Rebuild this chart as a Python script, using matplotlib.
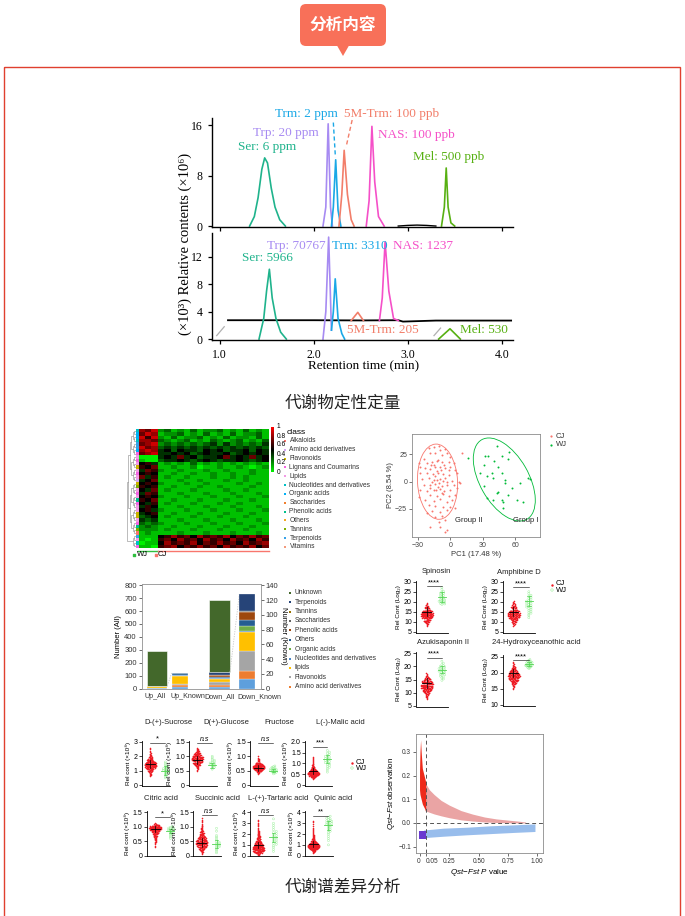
import numpy as np
import matplotlib
matplotlib.use("Agg")
import matplotlib.pyplot as plt
from matplotlib.patches import Rectangle, FancyBboxPatch, Polygon, Ellipse
from matplotlib.colors import LinearSegmentedColormap, to_rgb

plt.rcParams['font.family'] = ['Liberation Sans', 'DejaVu Sans']
plt.rcParams['mathtext.fontset'] = 'custom'
plt.rcParams['mathtext.rm'] = 'Liberation Sans'
plt.rcParams['mathtext.it'] = 'Liberation Sans:italic'
plt.rcParams['axes.linewidth'] = 0.6

# ---------------- data: chromatograms (retention time, intensity) ----------------
std_ser = ([1.32, 1.37, 1.41, 1.45, 1.48, 1.51, 1.55, 1.59, 1.64, 1.70], [0, 1.5, 4.5, 9, 10.8, 10, 6, 3, 1, 0])
std_trp = ([2.10, 2.13, 2.155, 2.18, 2.20], [0, 3, 16.2, 3, 0])
std_trm = ([2.19, 2.21, 2.235, 2.26, 2.29], [0, 3, 10.5, 2.5, 0])
std_5mt = ([2.27, 2.30, 2.325, 2.36, 2.40, 2.43], [0, 5, 12, 5, 1, 0])
std_nas = ([2.56, 2.59, 2.62, 2.65, 2.69, 2.75], [0, 4, 15.8, 7, 1.5, 0])
std_mel = ([3.36, 3.39, 3.41, 3.43, 3.46, 3.50], [0, 3, 9.2, 3, 0.5, 0])
std_base = ([2.9, 3.0, 3.1, 3.2, 3.3], [0, 0.1, 0.15, 0.1, 0])

smp_base = ([1.09, 1.5, 2.0, 2.5, 2.9, 2.95, 3.3, 3.8, 4.1], [2.75, 2.75, 2.75, 2.72, 2.75, 2.55, 2.7, 2.7, 2.7])
smp_ser = ([1.42, 1.47, 1.50, 1.53, 1.56, 1.60, 1.65, 1.71], [0, 3, 7, 10.2, 6, 3, 1, 0])
smp_trp = ([2.10, 2.13, 2.16, 2.19], [0, 4, 14.9, 1.3])
smp_trm = ([2.19, 2.21, 2.23, 2.26, 2.30, 2.33], [1.3, 4, 8.8, 3, 0.8, 0])
smp_5mt = ([2.40, 2.47, 2.53], [2.7, 3.9, 2.7])
smp_nas = ([2.70, 2.73, 2.76, 2.80, 2.85, 2.90], [2.7, 6, 14.2, 7, 3, 2.7])
smp_mel = ([3.33, 3.45, 3.56], [0, 1.5, 0])
smp_gaps = [([0.97, 1.05], [0.5, 1.8]), ([3.28, 3.35], [0.5, 1.6])]

c_ser, c_trp, c_trm, c_5mt, c_nas, c_mel = '#1fb38c', '#a78bf2', '#1aa8e6', '#f27e6a', '#f550c8', '#57b012'

# ---------------- data: heatmap (digits = scaled value x10; first 3 cols WJ) ----------------
heat_rows = [
    "879" "23121312231213121", "798" "12231213121312231", "969" "21312231213122131",
    "887" "32123121321231213", "789" "23232323424232324", "978" "34343434343434343",
    "898" "45354435453445354", "789" "44545345445345454", "000" "45474534457454745",
    "100" "34454345434454345", "564" "12121312121212121", "657" "11211201121121012",
    "476" "21121112112111211", "565" "11211211211211211", "746" "12112111211212111",
    "457" "11121121112112111", "565" "21112112111121121", "656" "11211121121111211",
    "547" "12111211112112111", "476" "11121112111211121", "565" "21112111211121112",
    "657" "11211121112111211", "546" "12111211121121111", "465" "11121112111211121",
    "564" "21112111211121112", "456" "11211121112111211", "345" "12111211121112111",
    "434" "11121112111211121", "323" "21112111211121112", "232" "11211121112111211",
    "222" "12111211121112111", "121" "11121112111211121", "111" "56867586768576867",
    "101" "67586758675867586", "011" "58676857686758678", "110" "67857686758676857",
]
heat_classes = ['Alkaloids', 'Amino acid derivatives', 'Flavonoids', 'Lignans and Coumarins', 'lipids',
                'Nucleotides and derivatives', 'Organic acids', 'Saccharides', 'Phenolic acids', 'Others',
                'Tannins', 'Terpenoids', 'Vitamins']
heat_class_colors = ['#f8766d', '#d7a6f2', '#c9b300', '#f564e3', '#f29ae6', '#00bfc4', '#00b0f6',
                     '#f08030', '#00c08b', '#f5a623', '#7cae00', '#35a2e8', '#f39a7c']
class_bar = [5, 6, 6, 5, 11, 11, 6, 3, 4, 3, 4, 2, 4, 3, 4, 1, 2, 10, 4, 3, 4, 8, 3, 4, 4, 2, 2, 4, 3, 8, 10, 0, 11, 4, 5, 3]

# ---------------- data: PCA scores ----------------
cj_pc1 = [-20, -15.4, -10.8, -9.2, -4.6, -18.5, -13.8, -7.7, -3.1, 0, 10.8, -24.6, -29.2, -21.5, -16.9, -12.3,
          -7.7, -1.5, 3.1, -23.1, -18.5, -13.8, -9.8, -4.6, 0, 4.6, -27.7, -21.5, -16, -11.7, -6.2, -1.5, 6.2,
          -26.2, -20, -15.4, -9.8, -4.6, 1.5, 7.7, -24.6, -18.5, -13.8, -7.7, -3.1, 3.1, 9.2, -27.7, -21.5,
          -15.4, -9.8, -5.5, 0, -18.5, -12.3, -6.8, -1.5, 4.6, -23.1, -15.4, -9.2, -3.1, 1.5, -20, -13.8, -6.2,
          0, -16.9, -9.2, -3.1, -13.8, -7.7, -10.8, -4.6, -18.5, -9.2, -4.6, -3.1, -12.3, -8.6, -15.4, -19.1,
          -11.7, -7.1, -1.5, -27.7, 6.2, -29.2, -21.5, 4.6, -14, -10, -17, -12, -6, -8, -13, -18, -3, -11]
cj_pc2 = [30.6, 32.1, 32.7, 29.1, 29.7, 26, 26, 24.5, 26, 22.9, 26.6, 20.5, 16.8, 16.8, 18.3, 19.3, 18.3, 18.3,
          16.8, 12.2, 11.3, 13.1, 13.8, 12.2, 13.8, 10.7, 7.6, 7.6, 6.7, 7.6, 7, 6.1, 7.6, 2.1, 3.1, 1.5, 2.1,
          3.1, 0.9, 0, -3.1, -3.1, -2.1, -4, -3.1, -3.1, -1.5, -7.6, -8.3, -7.6, -7, -8.3, -7.6, -12.2, -13.1,
          -11.3, -13.1, -12.2, -16.8, -17.4, -16.2, -18.3, -16.8, -21.4, -22.3, -22.9, -23.5, -26.6, -27.5, -26,
          -32.1, -31.5, -36.7, -35.2, -41.9, -41.3, -45.9, -44.3, 1.5, 10.7, 15.3, -6.1, -4.6, 0.6, 10.7, 13.8,
          -6.1, -13.8, -29.1, -24.5, 5, -1, 0, 10, 15, -10, -8, 15, 0, 20]
wj_pc1 = [16.9, 32.3, 35.4, 43.7, 54.5, 47.7, 53.8, 40.9, 30.8, 44.6, 38.5, 47.7, 33.8, 50.2, 50.8, 40, 56.9,
          72.3, 73.8, 30.8, 44.6, 53.8, 39.4, 47.7, 43, 61.5, 67.7, 49.2, 49.2, 33.8, 27.7, 64.6]
wj_pc2 = [21.4, 23.9, 23.9, 32.7, 27.5, 23.9, 20.5, 19.3, 15.3, 13.8, 7.6, 7.6, 5.2, 1.5, -0.9, 3.1, -6.1, 3.1,
          2.1, -4, -9.2, -12.2, -16.8, -16.8, -10.7, -16.8, -18.3, -24.5, -18.3, -15.3, 7.6, -1.5]

# ---------------- data: stacked bars (known class counts, bottom -> top) ----------------
bar_names = ['Up_All', 'Up_Known', 'Down_All', 'Down_Known']
known_classes = ['Alkaloids', 'Amino acid derivatives', 'Flavonoids', 'lipids', 'Nucleotides and derivatives',
                 'Organic acids', 'Others', 'Phenolic acids', 'Saccharides', 'Tannins', 'Terpenoids']
known_colors = ['#5e9fdc', '#ed7d31', '#a5a5a5', '#ffc000', '#4a86c8', '#70ad47', '#255e91', '#9e480e',
                '#636363', '#997300', '#264478']
up_known = [2, 2.5, 1.5, 11.5, 1, 0, 2, 0, 0, 0, 0.5]
down_known = [12.4, 12, 26.6, 25.4, 1.3, 6.7, 8, 11.6, 0.8, 1, 22.3]
unknown_all = [266, 558]
legend_order = ['Unknown', 'Terpenoids', 'Tannins', 'Saccharides', 'Phenolic acids', 'Others', 'Organic acids',
                'Nucleotides and derivatives', 'lipids', 'Flavonoids', 'Amino acid derivatives']

# ---------------- data: swarm panels (start, step, counts per bin) ----------------
spinosin_cj = (8, 1, [2, 4, 8, 14, 20, 24, 24, 20, 14, 9, 5, 2])
spinosin_wj = (19, 1, [4, 5, 4, 3, 3, 3, 2, 1, 1])
spinosin_stats = [15.0, 2.2, 22.5, 2.5]
amphibine_cj = (8, 1, [2, 4, 8, 12, 18, 22, 22, 18, 14, 10, 6, 4, 2])
amphibine_wj = (12, 1, [1, 1, 2, 2, 2, 3, 3, 3, 3, 2, 2, 2, 1, 1])
amphibine_stats = [15.0, 2.3, 20.5, 2.5]
azuki_cj = (8, 1, [3, 6, 12, 20, 26, 28, 24, 16, 8, 3])
azuki_wj = (15, 1, [2, 3, 4, 5, 5, 4, 2, 1])
azuki_stats = [13.8, 1.8, 18.7, 1.3]
hydroxy_cj = (15, 0.5, [1, 2, 3, 5, 8, 12, 15, 18, 20, 18, 15, 12, 9, 6, 4, 2, 1, 1])
hydroxy_wj = (21.5, 0.5, [3, 5, 7, 6, 4, 2])
hydroxy_stats = [19.9, 1.3, 22.7, 0.6]

sucrose_cj = (0.6, 0.1, [1, 2, 3, 5, 8, 12, 16, 20, 22, 20, 16, 12, 9, 6, 4, 3, 2, 1, 1, 1, 1])
sucrose_wj = (0.5, 0.1, [1, 1, 1, 2, 2, 3, 3, 2, 2, 1, 1, 1])
sucrose_stats = [1.45, 0.3, 1.0, 0.33]
glucose_cj = (0.5, 0.05, [1, 2, 3, 5, 8, 11, 14, 17, 19, 18, 15, 12, 9, 6, 4, 2, 1])
glucose_wj = (0.55, 0.05, [1, 2, 2, 3, 3, 2, 2, 1, 1, 1])
glucose_stats = [0.87, 0.15, 0.68, 0.1]
fructose_cj = (0.4, 0.05, [2, 6, 12, 20, 26, 24, 18, 12, 7, 4, 2, 1, 1])
fructose_wj = (0.4, 0.05, [2, 4, 5, 5, 3, 2])
fructose_stats = [0.6, 0.1, 0.5, 0.06]
malic_cj = (0.3, 0.05, [2, 5, 10, 18, 24, 24, 20, 16, 12, 8, 6, 4, 3, 2, 2, 1, 1, 1, 1, 1, 1])
malic_wj = (0.6, 0.1, [1, 1, 2, 2, 3, 3, 3, 3, 2, 2, 1])
malic_stats = [0.65, 0.15, 1.2, 0.2]
citric_cj = (0.3, 0.05, [1, 1, 1, 2, 2, 3, 4, 5, 7, 9, 12, 16, 20, 24, 22, 14, 5])
citric_wj = (0.6, 0.05, [1, 1, 1, 2, 2, 3, 4, 4, 2])
citric_stats = [0.93, 0.1, 0.85, 0.07]
succinic_cj = (0.05, 0.05, [1, 2, 4, 6, 9, 12, 15, 17, 18, 17, 15, 12, 10, 8, 6, 5, 4, 3, 3, 2, 2, 1, 1, 1, 1, 1])
succinic_wj = (0.1, 0.05, [1, 1, 1, 1, 2, 2, 2, 2, 1, 1, 1, 1, 1, 0, 0, 1, 0, 1])
succinic_stats = [0.45, 0.15, 0.4, 0.15]
tartaric_cj = (0.1, 0.1, [3, 6, 10, 14, 16, 17, 16, 15, 13, 12, 10, 9, 8, 7, 6, 5, 4, 4, 3, 3, 2, 2, 2, 1, 1, 1, 1, 1, 1, 1, 0, 1, 1])
tartaric_wj = (0.4, 0.2, [1, 1, 1, 2, 2, 2, 2, 2, 2, 2, 1, 1, 1, 1, 0, 1])
tartaric_stats = [1.0, 0.3, 1.7, 0.4]
quinic_cj = (0.3, 0.1, [2, 4, 8, 13, 18, 22, 24, 22, 18, 14, 10, 7, 5, 4, 3, 2, 2, 1, 1, 1, 1, 1, 1, 1, 1, 0, 1, 0, 1, 1])
quinic_wj = (1.0, 0.2, [1, 0, 1, 1, 1, 1, 2, 2, 2, 3, 4, 4, 3, 2])
quinic_stats = [1.1, 0.3, 2.8, 0.4]

# ---------------- data: Qst-Fst clouds (envelopes) ----------------
sigpos_p = [-0.004, 0.0, 0.005, 0.01, 0.02, 0.03, 0.04, 0.05]
sigpos_hi = [0.22, 0.30, 0.35, 0.30, 0.23, 0.21, 0.19, 0.17]
sigpos_lo = [0.14, 0.12, 0.11, 0.10, 0.08, 0.07, 0.06, 0.045]
pos_p = [0.05, 0.08, 0.12, 0.18, 0.25, 0.35, 0.45, 0.55, 0.65, 0.75, 0.85, 0.9]
pos_hi = [0.165, 0.14, 0.12, 0.095, 0.075, 0.052, 0.037, 0.025, 0.017, 0.012, 0.007, 0.004]
pos_lo = [0.05, 0.045, 0.038, 0.03, 0.022, 0.013, 0.008, 0.004, 0.002, 0.001, 0.0, 0.0]
neg_p = [0.03, 0.2, 0.4, 0.6, 0.8, 0.98]
neg_hi = [-0.03, -0.022, -0.018, -0.012, -0.008, -0.004]
neg_lo = [-0.062, -0.056, -0.05, -0.045, -0.04, -0.036]
signeg_p = [-0.005, 0.05]
signeg_hi = [-0.036, -0.036]
signeg_lo = [-0.066, -0.066]
qst_labels = [r"Sig_$\mathit{Qst}$−$\mathit{Fst}$>0 (186)", r"$\mathit{Qst}$−$\mathit{Fst}$>0 (774)",
              r"$\mathit{Qst}$−$\mathit{Fst}$<0 (1115)", r"Sig_$\mathit{Qst}$−$\mathit{Fst}$<0  (908)"]
qst_colors = ['#ee2a1a', '#e89a9a', '#8db6ea', '#6a3ad0']

# ---------------- figure ----------------
W, H = 685, 916
fig = plt.figure(figsize=(W / 100, H / 100), dpi=100)
bg = fig.add_axes([0, 0, 1, 1], zorder=-5)
bg.set_xlim(0, W)
bg.set_ylim(H, 0)
bg.axis('off')


def px_axes(l, t, r, b, **kw):
    return fig.add_axes([l / W, 1 - b / H, (r - l) / W, (b - t) / H], **kw)


CJK = ['Noto Sans CJK SC', 'DejaVu Sans']
SERIF = ['Liberation Serif', 'DejaVu Serif']

# header and frame
bg.add_patch(Rectangle((4.5, 67), 675.5, 870, fill=False, ec='#e0402f', lw=1.0))
bg.add_patch(FancyBboxPatch((300, 4), 86, 42, boxstyle="round,pad=0,rounding_size=6", fc='#f87059', ec='none'))
bg.add_patch(Polygon([(337, 45.5), (349, 45.5), (343, 56)], fc='#f87059', ec='none'))
bg.text(343, 25, "分析内容", color='white', fontsize=12, fontweight='bold', family=CJK, ha='center', va='center')
bg.text(343, 403, "代谢物定性定量", fontsize=12, family=CJK, ha='center', va='center', color='#222')
bg.text(343, 887, "代谢谱差异分析", fontsize=12, family=CJK, ha='center', va='center', color='#222')

# ---------------- chromatograms ----------------
ax1 = px_axes(212, 117.5, 513, 227.3)
ax2 = px_axes(212, 233, 513, 340.4)
for ax, ylim, yt in ((ax1, (-0.2, 17.2), [0, 8, 16]), (ax2, (-0.2, 15.5), [0, 4, 8, 12])):
    ax.set_xlim(0.92, 4.12)
    ax.set_ylim(*ylim)
    ax.set_yticks(yt)
    ax.set_xticks([1, 2, 3, 4])
    ax.spines[['top', 'right']].set_visible(False)
    ax.spines[['left', 'bottom']].set_linewidth(1.0)
    ax.tick_params(length=3, width=0.9, labelsize=8.5)
    for lab in ax.get_yticklabels():
        lab.set_family(SERIF)
ax1.set_xticklabels([])
ax2.set_xticklabels(["1.0", "2.0", "3.0", "4.0"], family=SERIF)

ax1.plot(*std_base, color='black', lw=1.0)
for (xs, ys), c in ((std_ser, c_ser), (std_trp, c_trp), (std_trm, c_trm), (std_5mt, c_5mt),
                    (std_nas, c_nas), (std_mel, c_mel)):
    ax1.plot(xs, ys, color=c, lw=1.2, clip_on=False)
ax1.plot([2.21, 2.232], [16.4, 10.9], color=c_trm, lw=1.0, ls=(0, (3, 2)))
ax1.plot([2.41, 2.345], [16.8, 12.5], color=c_5mt, lw=1.0, ls=(0, (3, 2)))
lab_kw = dict(family=SERIF, fontsize=9.5, ha='center', va='center')
ax1.text(1.51, 12.6, "Ser: 6 ppm", color=c_ser, **lab_kw)
ax1.text(1.71, 14.7, "Trp: 20 ppm", color=c_trp, **lab_kw)
ax1.text(1.92, 17.8, "Trm: 2 ppm", color=c_trm, **lab_kw)
ax1.text(2.83, 17.8, "5M-Trm: 100 ppb", color=c_5mt, **lab_kw)
ax1.text(3.09, 14.4, "NAS: 100 ppb", color=c_nas, **lab_kw)
ax1.text(3.44, 10.9, "Mel: 500 ppb", color=c_mel, **lab_kw)

ax2.plot(*smp_base, color='black', lw=1.3)
for xs, ys in smp_gaps:
    ax2.plot(xs, ys, color='#b0b0b0', lw=0.9)
for (xs, ys), c in ((smp_ser, c_ser), (smp_trp, c_trp), (smp_trm, c_trm), (smp_5mt, c_5mt),
                    (smp_nas, c_nas), (smp_mel, c_mel)):
    ax2.plot(xs, ys, color=c, lw=1.2)
ax2.text(1.51, 11.8, "Ser: 5966", color=c_ser, **lab_kw)
ax2.text(1.82, 13.6, "Trp: 70767", color=c_trp, **lab_kw)
ax2.text(2.49, 13.6, "Trm: 3310", color=c_trm, **lab_kw)
ax2.text(3.16, 13.6, "NAS: 1237", color=c_nas, **lab_kw)
ax2.text(2.74, 1.3, "5M-Trm: 205", color=c_5mt, **lab_kw)
ax2.text(3.81, 1.3, "Mel: 530", color=c_mel, **lab_kw)
bg.text(185, 244, "(×10³) Relative contents (×10⁶)", family=SERIF, fontsize=10.5, rotation=90,
        ha='center', va='center')
bg.text(364, 366, "Retention time (min)", family=SERIF, fontsize=9.5, ha='center', va='center')

# ---------------- heatmap ----------------
mat = np.array([[int(ch) / 10 for ch in row] for row in heat_rows])
heat_cmap = LinearSegmentedColormap.from_list('gbr', ['#00f000', '#000000', '#ff0000'])
axh = px_axes(138, 429, 269, 548)
axh.imshow(mat, aspect='auto', cmap=heat_cmap, vmin=0, vmax=1, interpolation='nearest')
axh.axis('off')

axc = px_axes(135.6, 429, 138, 548)
axc.imshow(np.array([[to_rgb(heat_class_colors[k])] for k in class_bar]), aspect='auto', interpolation='nearest')
axc.axis('off')

axd = px_axes(125, 429, 135.6, 548)
nodes = [(float(y), 0.0) for y in range(len(heat_rows))]
lvl = 1.0
while len(nodes) > 1:
    nxt = []
    for i in range(0, len(nodes) - 1, 2):
        (y1, h1), (y2, h2) = nodes[i], nodes[i + 1]
        axd.plot([h1, lvl, lvl, h2], [y1, y1, y2, y2], color='#8a8a8a', lw=0.4)
        nxt.append(((y1 + y2) / 2, lvl))
    if len(nodes) % 2:
        nxt.append(nodes[-1])
    nodes = nxt
    lvl += 1
axd.set_xlim(lvl, 0)
axd.set_ylim(len(heat_rows) - 0.5, -0.5)
axd.axis('off')

axcb = px_axes(271, 427, 274, 472)
axcb.imshow(np.linspace(1, 0, 100)[:, None], aspect='auto', cmap=heat_cmap, vmin=0, vmax=1)
axcb.axis('off')
for v in [1, 0.8, 0.6, 0.4, 0.2, 0]:
    bg.text(276.5, 472 - v * 45, "1" if v == 1 else ("0" if v == 0 else f"{v:.1f}"), fontsize=4.8, va='center')
bg.plot([138, 157.6], [550.5, 550.5], color='#2fbf3f', lw=1.0)
bg.plot([157.6, 269], [550.5, 550.5], color='#f8766d', lw=1.0)
bg.scatter([134.5], [554.5], marker='s', s=3, color='#2fbf3f')
bg.text(136.5, 554.5, "WJ", fontsize=5.5, va='center')
bg.scatter([156], [554.5], marker='s', s=3, color='#f8766d')
bg.text(158, 554.5, "CJ", fontsize=5.5, va='center')
bg.text(287, 433, "class", fontsize=6, va='center')
for i, (name, col) in enumerate(zip(heat_classes, heat_class_colors)):
    y = 441 + 8.83 * i
    bg.scatter([285], [y], marker='s', s=3, color=col, lw=0)
    bg.text(289.5, y, name[0].upper() + name[1:], fontsize=4.8, va='center', color='#333')

# ---------------- PCA ----------------
axp = px_axes(412, 434, 540, 537)
axp.scatter(cj_pc1, cj_pc2, s=2, color='#f8766d', lw=0)
axp.scatter(wj_pc1, wj_pc2, s=2, color='#00ba38', lw=0)
axp.add_patch(Ellipse((-11.7, 0), 37, 69, angle=3, fill=False, ec='#f8766d', lw=0.6))
axp.add_patch(Ellipse((50, 2), 84, 45, angle=-60, fill=False, ec='#00ba38', lw=0.6))
axp.text(17, -36, "Group II", fontsize=5.5, ha='center', va='center', color='#222')
axp.text(70, -36, "Group I", fontsize=5.5, ha='center', va='center', color='#222')
axp.set_xlim(-35.3, 83)
axp.set_ylim(-50.7, 43.7)
axp.set_xticks([-30, 0, 30, 60])
axp.set_yticks([-25, 0, 25])
axp.tick_params(labelsize=5, length=2, width=0.5, pad=1.5, colors='#444')
for s in axp.spines.values():
    s.set_color('#8c8c8c')
axp.set_xlabel("PC1 (17.48 %)", fontsize=5.5, labelpad=1.5, color='#333')
axp.set_ylabel("PC2 (8.54 %)", fontsize=5.5, labelpad=1, color='#333')
bg.scatter([551], [436], s=2.5, color='#f8766d', lw=0)
bg.text(555.5, 436, "CJ", fontsize=5.5, va='center', color='#333')
bg.scatter([551], [444.5], s=2.5, color='#00ba38', lw=0)
bg.text(555.5, 444.5, "WJ", fontsize=5.5, va='center', color='#333')

# ---------------- stacked bars ----------------
axb = px_axes(141.7, 584, 260.7, 688.5)
axr = axb.twinx()
scale = 800 / 140
bar_pos = [15.3, 38.3, 78, 105.5]
bar_w = [20.6, 16.6, 20.6, 15.7]
for k, (seg, pos_all, pos_known) in enumerate(((up_known, 0, 1), (down_known, 2, 3))):
    base = 0.0
    for v, col in zip(seg, known_colors):
        axb.bar(bar_pos[pos_all], v, bar_w[pos_all], bottom=base, color=col, ec='white', lw=0.2)
        axr.bar(bar_pos[pos_known], v, bar_w[pos_known], bottom=base, color=col, ec='white', lw=0.2)
        base += v
    axb.bar(bar_pos[pos_all], unknown_all[k], bar_w[pos_all], bottom=base, color='#43682b', ec='white', lw=0.4)
    axb.plot([bar_pos[pos_all] + bar_w[pos_all] / 2, bar_pos[pos_known] - bar_w[pos_known] / 2],
             [base, base * scale], color='#c8c8c8', lw=0.6, ls=(0, (1.5, 1.5)))
axb.set_xlim(0, 119)
axb.set_ylim(0, 810)
axr.set_ylim(0, 810 / scale)
axb.set_yticks(range(0, 801, 100))
axr.set_yticks(range(0, 141, 20))
axb.set_xticks([])
for a in (axb, axr):
    a.tick_params(labelsize=5.5, length=2, width=0.5, pad=1.5, colors='#333')
    for s in a.spines.values():
        s.set_color('#999')
        s.set_linewidth(0.5)
axb.set_ylabel("Number (All)", fontsize=5.5, labelpad=2)
axr.set_ylabel("Number (Known)", fontsize=5.5, rotation=-90, labelpad=6)
for x, name in zip([155, 187.5, 220, 259.5], bar_names):
    bg.text(x, 697, name, fontsize=5.1, ha='center', va='center', color='#333')
leg_colors = dict(zip(known_classes, known_colors))
leg_colors['Unknown'] = '#43682b'
for i, name in enumerate(legend_order):
    y = 592.7 + 9.4 * i
    bg.scatter([290], [y], marker='s', s=3.5, color=leg_colors[name], lw=0)
    bg.text(295, y, name, fontsize=4.8, va='center', color='#333')


# ---------------- swarm panels ----------------
def swarm_xy(x0, spec, halfw):
    lo, step, counts = spec
    m = max(counts)
    xs, ys = [], []
    for k, n in enumerate(counts):
        v = lo + k * step
        for i in range(n):
            j = (i + 1) // 2 * (1 if i % 2 else -1)
            xs.append(x0 + j * halfw / (m / 2 + 0.5))
            ys.append(v + (((i * 7) % n + 0.5) / n - 0.5) * step)
    return xs, ys


def swarm_panel(rect, ylim, yticks, yticklabels, cj, wj, stats, sig, sig_y, ylabel, xlim=(-0.7, 1.4)):
    ax = px_axes(*rect)
    xs, ys = swarm_xy(0, cj, 0.42)
    ax.scatter(xs, ys, s=1.3, color='#ee1c25', lw=0, zorder=2)
    xs, ys = swarm_xy(1, wj, 0.28)
    ax.scatter(xs, ys, s=2.2, facecolor='none', edgecolor='#98ee98', lw=0.3, zorder=2)
    m1, s1, m2, s2 = stats
    ax.plot([-0.3, 0.3], [m1, m1], color='black', lw=0.6, zorder=3)
    ax.plot([0, 0], [m1 - s1, m1 + s1], color='black', lw=0.5, zorder=3)
    ax.plot([0.72, 1.28], [m2, m2], color='#52d452', lw=0.6, zorder=3)
    ax.plot([1, 1], [m2 - s2, m2 + s2], color='#52d452', lw=0.5, zorder=3)
    for yy in (m2 - s2, m2 + s2):
        ax.plot([0.88, 1.12], [yy, yy], color='#52d452', lw=0.5, zorder=3)
    ax.plot([0, 1], [sig_y, sig_y], color='black', lw=0.4)
    ital = sig.startswith('n')
    ax.text(0.5, sig_y, sig, fontsize=5 if ital else 5.5, ha='center', va='bottom',
            style='italic' if ital else 'normal')
    ax.set_xlim(*xlim)
    ax.set_ylim(*ylim)
    ax.set_yticks(yticks)
    ax.set_yticklabels(yticklabels)
    ax.set_xticks([])
    ax.spines[['top', 'right']].set_visible(False)
    ax.spines[['left', 'bottom']].set_linewidth(0.6)
    ax.tick_params(labelsize=5, length=2, width=0.5, pad=1)
    ax.set_ylabel(ylabel, fontsize=4.6, labelpad=2, family=['Liberation Sans', 'DejaVu Sans'])
    return ax


log_lab = "Rel Cont (Log₂)"
swarm_panel((416, 580.7, 448, 632.7), (4.5, 30.5), [5, 10, 15, 20, 25, 30], ['5', '10', '15', '20', '25', '30'],
            spinosin_cj, spinosin_wj, spinosin_stats, "****", 27.8, log_lab)
swarm_panel((502.7, 580.7, 535, 632.7), (4.5, 30.5), [5, 10, 15, 20, 25, 30], ['5', '10', '15', '20', '25', '30'],
            amphibine_cj, amphibine_wj, amphibine_stats, "****", 27.2, log_lab)
swarm_panel((416, 652, 448, 706.5), (4.81, 25.49), [5, 10, 15, 20, 25], ['5', '10', '15', '20', '25'],
            azuki_cj, azuki_wj, azuki_stats, "****", 23.3, log_lab)
swarm_panel((502.7, 655, 535, 705.6), (9.81, 25.53), [10, 15, 20, 25], ['10', '15', '20', '25'],
            hydroxy_cj, hydroxy_wj, hydroxy_stats, "****", 24.0, log_lab)
tkw = dict(fontsize=5.5, ha='center', va='center', color='#222')
bg.text(436.7, 571.7, "Spinosin", **tkw)
bg.text(519, 572, "Amphibine D", **tkw)
bg.text(443, 643, "Azukisaponin II", **tkw)
bg.text(536.7, 643, "24-Hydroxyceanothic acid", **tkw)
bg.scatter([552], [584.5], s=3, color='#ee1c25', lw=0)
bg.text(556, 583.5, "CJ", fontsize=5.5, va='center')
bg.scatter([552], [590], s=3, facecolor='none', edgecolor='#98ee98', lw=0.4)
bg.text(556, 590.5, "WJ", fontsize=5.5, va='center')

rel_lab = "Rel cont (×10⁸)"
row1, row2 = (740.5, 785.7), (811, 856.4)


def lims(top):
    return (-0.016 * top, 1.032 * top)


t15 = ([0, 0.5, 1.0, 1.5], ['0', '0.5', '1.0', '1.5'])
t20 = ([0, 0.5, 1.0, 1.5, 2.0], ['0', '0.5', '1.0', '1.5', '2.0'])
t3 = ([0, 1, 2, 3], ['0', '1', '2', '3'])
t4 = ([0, 1, 2, 3, 4], ['0', '1', '2', '3', '4'])
xl = (-0.55, 1.3)
swarm_panel((141.7, row1[0], 170, row1[1]), lims(3), *t3, sucrose_cj, sucrose_wj, sucrose_stats, "*", 2.95, rel_lab, xl)
swarm_panel((189, row1[0], 216.7, row1[1]), lims(1.5), *t15, glucose_cj, glucose_wj, glucose_stats, "n.s", 1.45, rel_lab, xl)
swarm_panel((250, row1[0], 278, row1[1]), lims(1.5), *t15, fructose_cj, fructose_wj, fructose_stats, "n.s", 1.45, rel_lab, xl)
swarm_panel((305, row1[0], 331.7, row1[1]), lims(2.0), *t20, malic_cj, malic_wj, malic_stats, "***", 1.78, rel_lab, xl)
swarm_panel((146.7, row2[0], 175, row2[1]), lims(1.5), *t15, citric_cj, citric_wj, citric_stats, "*", 1.33, rel_lab, xl)
swarm_panel((193.3, row2[0], 221, row2[1]), lims(1.5), *t15, succinic_cj, succinic_wj, succinic_stats, "n.s", 1.42, rel_lab, xl)
swarm_panel((250, row2[0], 278, row2[1]), lims(4), *t4, tartaric_cj, tartaric_wj, tartaric_stats, "n.s", 3.75, rel_lab, xl)
swarm_panel((305, row2[0], 333, row2[1]), lims(4), *t4, quinic_cj, quinic_wj, quinic_stats, "**", 3.7, rel_lab, xl)
for x, y, s in ((168, 722.7, "D-(+)-Sucrose"), (226.7, 722.7, "D(+)-Glucose"), (279, 722.7, "Fructose"),
                (340, 722.7, "L(-)-Malic acid"), (161.5, 799, "Citric acid"), (218, 799, "Succinic acid"),
                (278.5, 799, "L-(+)-Tartaric acid"), (333, 799, "Quinic acid")):
    bg.text(x, y, s, **tkw)
bg.scatter([352], [763], s=3, color='#ee1c25', lw=0)
bg.text(356, 762.5, "CJ", fontsize=5.5, va='center')
bg.scatter([352], [768], s=3, facecolor='none', edgecolor='#98ee98', lw=0.4)
bg.text(356, 768.5, "WJ", fontsize=5.5, va='center')

# ---------------- Qst - Fst ----------------
axq = px_axes(416, 734, 543.3, 853.3)
axq.fill_between(pos_p, pos_lo, pos_hi, color=qst_colors[1], lw=0, alpha=0.9)
axq.fill_between(neg_p, neg_lo, neg_hi, color=qst_colors[2], lw=0, alpha=0.9)
axq.fill_between(sigpos_p, sigpos_lo, sigpos_hi, color=qst_colors[0], lw=0)
axq.fill_between(signeg_p, signeg_lo, signeg_hi, color=qst_colors[3], lw=0)
axq.axhline(0, color='#555', lw=0.7, ls=(0, (4, 3)))
axq.axvline(0.05, color='#555', lw=0.7, ls=(0, (4, 3)))
axq.set_xlim(-0.034, 1.051)
axq.set_ylim(-0.128, 0.375)
axq.set_xticks([0, 0.05, 0.25, 0.5, 0.75, 1.0])
axq.set_xticklabels(['0', '0.05', '0.25', '0.50', '0.75', '1.00'])
xlabs = axq.get_xticklabels()
xlabs[0].set_horizontalalignment('right')
xlabs[1].set_horizontalalignment('left')
axq.set_yticks([-0.1, 0, 0.1, 0.2, 0.3])
axq.set_yticklabels(['−0.1', '0.0', '0.1', '0.2', '0.3'])
axq.tick_params(labelsize=4.7, length=2, width=0.5, pad=1.5, colors='#333')
for s in axq.spines.values():
    s.set_color('#8c8c8c')
axq.set_ylabel(r"$\mathit{Qst}$−$\mathit{Fst}$ observation", fontsize=5.8, labelpad=1)
axq.set_xlabel(r"$\mathit{Qst}$−$\mathit{Fst}$ $\mathit{P}$ value", fontsize=5.8, labelpad=1.5)
bg.text(477, 740, "Significant", fontsize=5.8, va='center', color='#222')
for i, (lab, col) in enumerate(zip(qst_labels, qst_colors)):
    y = [751.7, 762.7, 774, 785.7][i]
    bg.scatter([474], [y], s=3, color=col, lw=0)
    bg.text(478, y, lab, fontsize=4.9, va='center', color='#222')

fig.savefig("out.png", dpi=100)
